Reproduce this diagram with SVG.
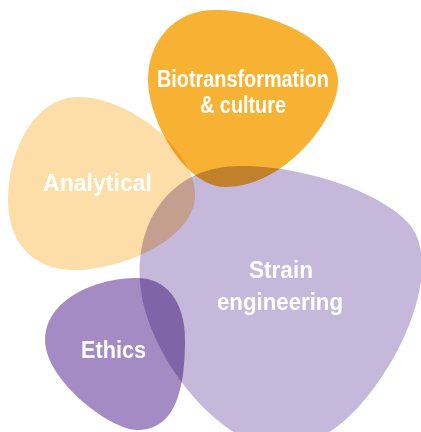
<svg xmlns="http://www.w3.org/2000/svg" width="421" height="432" viewBox="0 0 421 432">
<style>
.blob{mix-blend-mode:multiply}
.lbl{font-family:"Liberation Sans",Arial,sans-serif;font-weight:bold;font-size:23.5px;fill:#ffffff;text-anchor:middle}
</style>
<rect width="421" height="432" fill="#ffffff"/>
<g id="analytical">
<path class="blob" fill="#FDDDA8" d="M78,97 C130,97 195,150 195,195 C195,240 120,270 75,270 C30,270 8,240 8,200 C8,150 35,97 78,97 Z"/>
<text class="lbl" x="97.5" y="191" textLength="109" lengthAdjust="spacingAndGlyphs">Analytical</text>
</g>
<g id="biotransformation">
<path class="blob" fill="#F7B233" d="M148,80 C148,40 175,10 215,10 C270,10 338,40 338,82 C338,118 285,187 225,187 C185,187 148,120 148,80 Z"/>
<text class="lbl" x="243" y="87" textLength="172" lengthAdjust="spacingAndGlyphs">Biotransformation</text>
<text class="lbl" x="243" y="113" textLength="86" lengthAdjust="spacingAndGlyphs">&amp; culture</text>
</g>
<g id="strain">
<path class="blob" fill="#C6B8DB" d="M240,166 C310,166 385,195 410,225 C430,250 425,300 395,355 C370,400 330,448 280,448 C230,448 165,380 145,310 C125,240 160,166 240,166 Z"/>
<text class="lbl" x="281" y="278" textLength="64" lengthAdjust="spacingAndGlyphs">Strain</text>
<text class="lbl" x="280" y="310" textLength="126" lengthAdjust="spacingAndGlyphs">engineering</text>
</g>
<g id="ethics">
<path class="blob" fill="#A48BC3" d="M137,278 C165,278 185,300 185,340 C185,390 175,430 137,430 C110,430 45,380 45,340 C45,300 95,278 137,278 Z"/>
<text class="lbl" x="113.5" y="358" textLength="65" lengthAdjust="spacingAndGlyphs">Ethics</text>
</g>
<g id="connectors"/>
</svg>
